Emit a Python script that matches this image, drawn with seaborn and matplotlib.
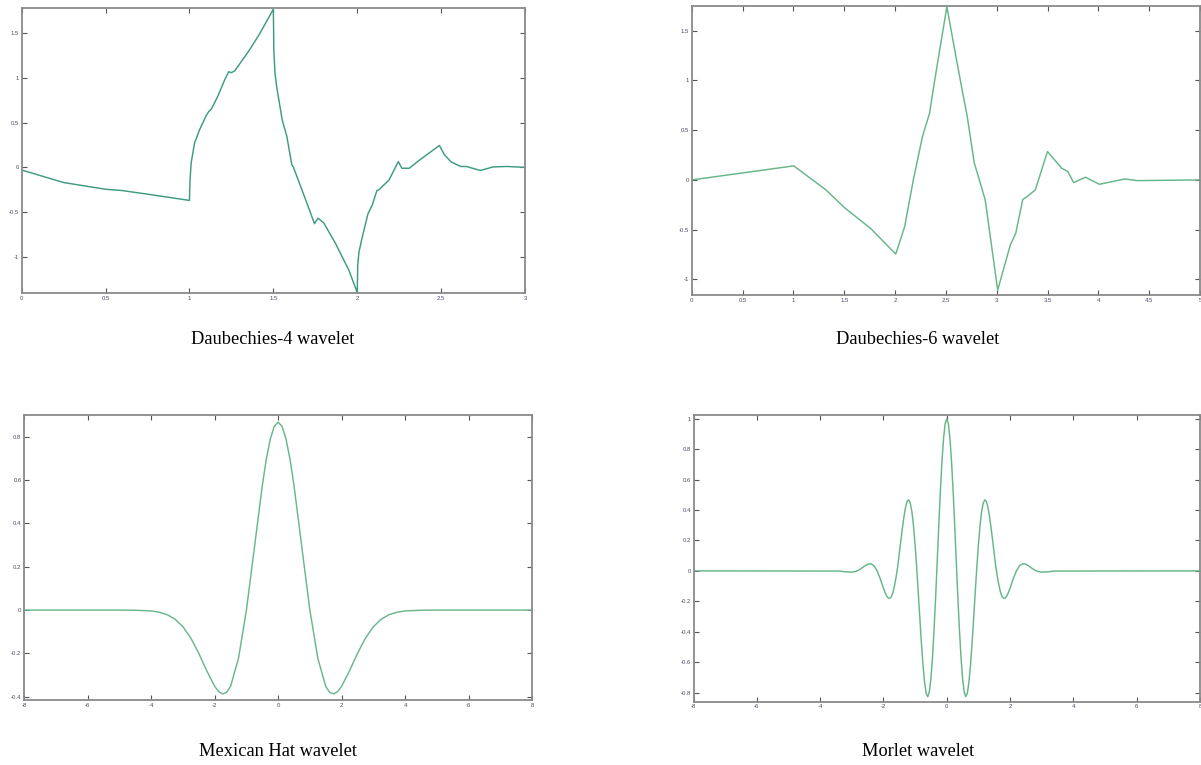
import numpy as np
import pandas as pd
import matplotlib
matplotlib.use("Agg")
import matplotlib.pyplot as plt
import seaborn as sns
from matplotlib.ticker import FixedLocator, FixedFormatter

# ---------------- data ----------------
db4_x = [0, 0.25, 0.5, 0.6, 0.75, 1.0,
         1.003, 1.01, 1.03, 1.06, 1.10, 1.117, 1.13, 1.17, 1.21, 1.234,
         1.25, 1.27, 1.36, 1.42, 1.5,
         1.503, 1.51, 1.52, 1.553, 1.58, 1.61, 1.62, 1.65, 1.70, 1.745,
         1.766, 1.80, 1.87, 1.95, 2.0,
         2.003, 2.01, 2.03, 2.064, 2.09, 2.117, 2.13, 2.19, 2.245, 2.266,
         2.31, 2.37, 2.49, 2.52, 2.56, 2.617, 2.65, 2.734, 2.81, 2.89, 3.0]
db4_y = [-0.03, -0.17, -0.245, -0.26, -0.30, -0.37,
         -0.15, 0.05, 0.27, 0.42, 0.58, 0.63, 0.65, 0.80, 0.98, 1.07,
         1.06, 1.08, 1.32, 1.50, 1.77,
         1.30, 1.05, 0.90, 0.53, 0.35, 0.03, 0.0, -0.15, -0.40, -0.63,
         -0.57, -0.62, -0.85, -1.15, -1.40,
         -1.10, -0.95, -0.78, -0.52, -0.42, -0.26, -0.25, -0.14, 0.065, -0.01,
         -0.01, 0.08, 0.245, 0.14, 0.06, 0.01, 0.01, -0.035, 0.005, 0.01, 0.0]

db6_x = [0, 1.004, 1.32, 1.51, 1.76, 2.007,
         2.095, 2.18, 2.27, 2.34, 2.39, 2.51,
         2.606, 2.66, 2.71, 2.78, 2.82, 2.887,
         3.01, 3.134, 3.187, 3.257, 3.29, 3.38,
         3.50, 3.64, 3.70, 3.757, 3.873, 4.01,
         4.137, 4.26, 4.38, 5.0]
db6_y = [0, 0.141, -0.10, -0.285, -0.487, -0.745,
         -0.47, 0.0, 0.436, 0.67, 1.0, 1.74,
         1.20, 0.906, 0.64, 0.168, 0.034, -0.20,
         -1.107, -0.654, -0.537, -0.195, -0.175, -0.10,
         0.285, 0.117, 0.084, -0.027, 0.027, -0.044,
         -0.017, 0.01, -0.007, 0.0]

mex_x = [-8, -5, -4.5, -4, -3.75, -3.5, -3.25, -3, -2.75, -2.5, -2.25, -2,
         -1.875, -1.75, -1.625, -1.5, -1.25, -1, -0.75, -0.5, -0.375, -0.25, -0.125,
         0, 0.125, 0.25, 0.375, 0.5, 0.75, 1, 1.25, 1.5, 1.625, 1.75, 1.875,
         2, 2.25, 2.5, 2.75, 3, 3.25, 3.5, 3.75, 4, 4.5, 5, 8]
mex_y = [0, 0, -0.001, -0.004, -0.010, -0.021, -0.042, -0.077, -0.130, -0.200, -0.280, -0.352,
         -0.376, -0.387, -0.380, -0.352, -0.223, 0.0, 0.286, 0.574, 0.695, 0.788, 0.847,
         0.867, 0.847, 0.788, 0.695, 0.574, 0.286, 0.0, -0.223, -0.352, -0.380, -0.387, -0.376,
         -0.352, -0.280, -0.200, -0.130, -0.077, -0.042, -0.021, -0.010, -0.004, -0.001, 0, 0]

mor_x = [-8, -3.4, -3.2, -3.0, -2.9, -2.8, -2.7, -2.6, -2.5, -2.4, -2.3, -2.2, -2.1,
         -2.0, -1.95, -1.9, -1.85, -1.8, -1.75, -1.7, -1.65, -1.6, -1.55, -1.5,
         -1.45, -1.4, -1.35, -1.3, -1.25, -1.2, -1.15, -1.1, -1.05, -1.0,
         -0.95, -0.9, -0.85, -0.8, -0.75, -0.7, -0.65, -0.6, -0.55, -0.5,
         -0.45, -0.4, -0.35, -0.3, -0.25, -0.2, -0.15, -0.1, -0.05,
         0,
         0.05, 0.1, 0.15, 0.2, 0.25, 0.3, 0.35, 0.4, 0.45, 0.5,
         0.55, 0.6, 0.65, 0.7, 0.75, 0.8, 0.85, 0.9, 0.95, 1.0,
         1.05, 1.1, 1.15, 1.2, 1.25, 1.3, 1.35, 1.4, 1.45, 1.5,
         1.55, 1.6, 1.65, 1.7, 1.75, 1.8, 1.85, 1.9, 1.95, 2.0,
         2.1, 2.2, 2.3, 2.4, 2.5, 2.6, 2.7, 2.8, 2.9, 3.0, 3.2, 3.4, 8]
mor_y = [0, -0.001, -0.006, -0.008, -0.005, 0.003, 0.016, 0.031, 0.044, 0.047, 0.034, 0.000, -0.052,
         -0.114, -0.141, -0.164, -0.178, -0.180, -0.170, -0.142, -0.097, -0.040, 0.027, 0.113,
         0.199, 0.283, 0.359, 0.420, 0.458, 0.467, 0.444, 0.387, 0.295, 0.172,
         0.024, -0.141, -0.311, -0.475, -0.619, -0.733, -0.805, -0.827, -0.795, -0.707,
         -0.568, -0.384, -0.168, 0.068, 0.306, 0.530, 0.723, 0.873, 0.968,
         1.000,
         0.968, 0.873, 0.723, 0.530, 0.306, 0.068, -0.168, -0.384, -0.568, -0.707,
         -0.795, -0.827, -0.805, -0.733, -0.619, -0.475, -0.311, -0.141, 0.024, 0.172,
         0.295, 0.387, 0.444, 0.467, 0.458, 0.420, 0.359, 0.283, 0.199, 0.113,
         0.027, -0.040, -0.097, -0.142, -0.170, -0.180, -0.178, -0.164, -0.141, -0.114,
         -0.052, 0.000, 0.034, 0.047, 0.044, 0.031, 0.016, 0.003, -0.005, -0.008, -0.006, -0.001, 0]

titles = ["Daubechies-4 wavelet", "Daubechies-6 wavelet",
          "Mexican Hat wavelet", "Morlet wavelet"]

db4_xticks = [0, 0.5, 1, 1.5, 2, 2.5, 3]
db4_xlabels = ["0", "0.5", "1", "1.5", "2", "2.5", "3"]
db_yticks = [-1, -0.5, 0, 0.5, 1, 1.5]
db_ylabels = ["-1", "-0.5", "0", "0.5", "1", "1.5"]
db6_xticks = [0, 0.5, 1, 1.5, 2, 2.5, 3, 3.5, 4, 4.5, 5]
db6_xlabels = ["0", "0.5", "1", "1.5", "2", "2.5", "3", "3.5", "4", "4.5", "5"]
cont_xticks = [-8, -6, -4, -2, 0, 2, 4, 6, 8]
cont_xlabels = ["-8", "-6", "-4", "-2", "0", "2", "4", "6", "8"]
mex_yticks = [-0.4, -0.2, 0, 0.2, 0.4, 0.6, 0.8]
mex_ylabels = ["-0.4", "-0.2", "0", "0.2", "0.4", "0.6", "0.8"]
mor_yticks = [-0.8, -0.6, -0.4, -0.2, 0, 0.2, 0.4, 0.6, 0.8, 1]
mor_ylabels = ["-0.8", "-0.6", "-0.4", "-0.2", "0", "0.2", "0.4", "0.6", "0.8", "1"]

# ---------------- drawing ----------------
sns.set_theme(style="white")
plt.rcParams['font.family'] = ['Liberation Sans', 'DejaVu Sans']

W, H = 1201, 765
fig = plt.figure(figsize=(W / 100, H / 100), dpi=100)
fig.patch.set_facecolor("white")


def add_ax(l, t, r, b):
    return fig.add_axes([l / W, 1 - b / H, (r - l) / W, (b - t) / H])


panels = [
    dict(box=(21.7, 8.3, 525, 293), x=db4_x, y=db4_y, xlim=(0, 3), ylim=(-1.406, 1.78),
         xt=db4_xticks, xl=db4_xlabels, yt=db_yticks, yl=db_ylabels, color="#3f9a84",
         title=titles[0], tpos=(273, 339)),
    dict(box=(691.7, 5.7, 1200, 295), x=db6_x, y=db6_y, xlim=(0, 5), ylim=(-1.156, 1.75),
         xt=db6_xticks, xl=db6_xlabels, yt=db_yticks, yl=db_ylabels, color="#66b68a",
         title=titles[1], tpos=(918, 339)),
    dict(box=(24.3, 415, 532, 700), x=mex_x, y=mex_y, xlim=(-8, 8), ylim=(-0.415, 0.90),
         xt=cont_xticks, xl=cont_xlabels, yt=mex_yticks, yl=mex_ylabels, color="#6ab78c",
         title=titles[2], tpos=(278, 751)),
    dict(box=(693.5, 415, 1200, 701.7), x=mor_x, y=mor_y, xlim=(-8, 8), ylim=(-0.86, 1.025),
         xt=cont_xticks, xl=cont_xlabels, yt=mor_yticks, yl=mor_ylabels, color="#66b68a",
         title=titles[3], tpos=(918, 751)),
]

for p in panels:
    ax = add_ax(*p["box"])
    df = pd.DataFrame({"x": p["x"], "y": p["y"]})
    sns.lineplot(data=df, x="x", y="y", ax=ax, color=p["color"], linewidth=1.05,
                 sort=False, estimator=None)
    ax.set_xlim(*p["xlim"])
    ax.set_ylim(*p["ylim"])
    ax.xaxis.set_major_locator(FixedLocator(p["xt"]))
    ax.xaxis.set_major_formatter(FixedFormatter(p["xl"]))
    ax.yaxis.set_major_locator(FixedLocator(p["yt"]))
    ax.yaxis.set_major_formatter(FixedFormatter(p["yl"]))
    ax.set_xlabel("")
    ax.set_ylabel("")
    ax.tick_params(axis="both", which="major", direction="in", top=True, right=True,
                   bottom=True, left=True, length=3.5, width=0.8, color="#555555",
                   labelsize=4.3, labelcolor="#4c4c66", pad=2)
    for s in ax.spines.values():
        s.set_visible(True)
        s.set_color("#8a8a8a")
        s.set_linewidth(1.3)
    ax.set_facecolor("white")
    cx, cy = p["tpos"]
    fig.text(cx / W, 1 - cy / H, p["title"], ha="center", va="center",
             family=["Liberation Serif", "DejaVu Serif"], fontsize=13.2, color="black")

fig.savefig("out.png", dpi=100, facecolor="white")
